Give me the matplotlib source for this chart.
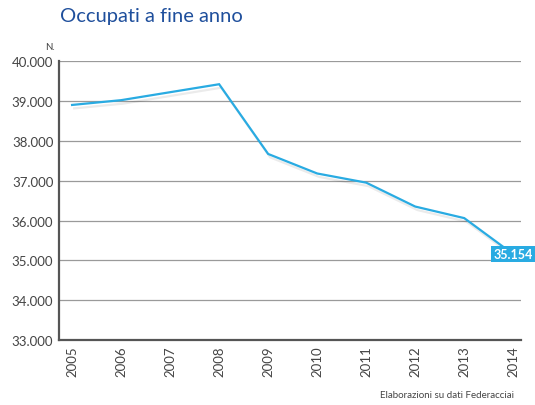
import matplotlib
matplotlib.use("Agg")
import matplotlib.pyplot as plt
import matplotlib.patheffects as pe

# dati
anni = [2005, 2006, 2007, 2008, 2009, 2010, 2011, 2012, 2013, 2014]
occupati = [38900, 39020, 39220, 39420, 37670, 37180, 36950, 36350, 36060, 35154]
yticks = [33000, 34000, 35000, 36000, 37000, 38000, 39000, 40000]
ytick_labels = ["33.000", "34.000", "35.000", "36.000", "37.000", "38.000", "39.000", "40.000"]

plt.rcParams['font.family'] = ['Lato', 'DejaVu Sans']

fig = plt.figure(figsize=(5.35, 4.06), dpi=100)
ax = fig.add_axes([0.110, 0.160, 0.864, 0.687])

blu = '#29abe2'
ax.plot(anni, occupati, color=blu, lw=1.6, solid_joinstyle='miter', zorder=3,
        path_effects=[pe.SimpleLineShadow(offset=(1.5, -2.5), shadow_color='black', alpha=0.08),
                      pe.Normal()])

ax.set_xlim(2004.73, 2014.16)
ax.set_ylim(33000, 40000)
ax.set_yticks(yticks)
ax.set_yticklabels(ytick_labels, fontsize=9.5, color='#444444')
ax.set_xticks(anni)
ax.set_xticklabels([str(a) for a in anni], rotation=90, fontsize=9.5, color='#444444')
ax.tick_params(length=0, pad=4)

ax.grid(axis='y', color='#9a9a9a', lw=0.9)
ax.set_axisbelow(True)
for s in ['top', 'right']:
    ax.spines[s].set_visible(False)
ax.spines['left'].set_color('#555555')
ax.spines['left'].set_linewidth(1.6)
ax.spines['bottom'].set_color('#555555')
ax.spines['bottom'].set_linewidth(1.6)

# etichetta ultimo valore
ax.annotate("35.154", xy=(anni[-1], occupati[-1]), xytext=(14, 0), textcoords='offset points',
            ha='right', va='center', fontsize=9, color='white', fontweight='bold',
            bbox=dict(boxstyle='square,pad=0.15', fc=blu, ec='none'), zorder=5)

fig.text(0.112, 0.945, "Occupati a fine anno", fontsize=14.5, color='#1f4f9c')
fig.text(0.085, 0.878, "N.", fontsize=7, color='#444444')
fig.text(0.96, 0.02, "Elaborazioni su dati Federacciai", fontsize=7, color='#444444', ha='right')

plt.savefig("out.png", dpi=100)
